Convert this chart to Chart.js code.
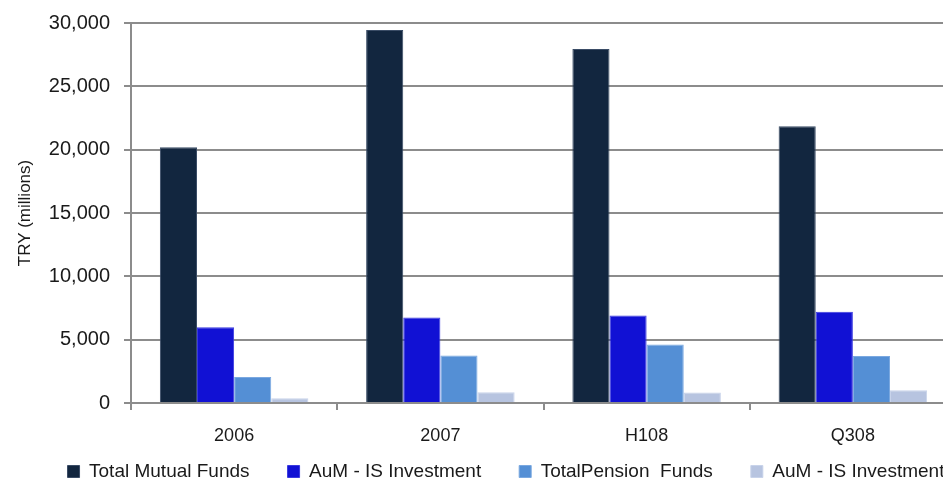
<!DOCTYPE html>
<html>
<head>
<meta charset="utf-8">
<script src="https://cdn.jsdelivr.net/npm/chart.js@4/dist/chart.umd.min.js"></script>
<style>
  html, body { margin: 0; padding: 0; background: #fff; overflow: hidden; }
  #wrap { position: relative; width: 1012px; height: 481px; }
</style>
</head>
<body>
<div id="wrap"><canvas id="c"></canvas></div>
<script>
const categories = ["2006", "2007", "H108", "Q308"];
const seriesNames = ["Total Mutual Funds", "AuM - IS Investment", "TotalPension  Funds", "AuM - IS Investment"];
const totalMutualFunds = [20200, 29450, 27950, 21850];
const aumIsInvestment = [5980, 6750, 6900, 7200];
const totalPensionFunds = [2060, 3750, 4620, 3720];
const aumIsInvestment2 = [370, 850, 820, 1000];
const yTicks = [0, 5000, 10000, 15000, 20000, 25000, 30000];

const colors = ["#12263F", "#1111D4", "#548FD5", "#B7C4E0"];
const borders = ["#3A4C66", "#3A3AE0", "#7AA8E0", "#C8D3EA"];
const values = [totalMutualFunds, aumIsInvestment, totalPensionFunds, aumIsInvestment2];

const FONT = "'Liberation Sans', Arial, sans-serif";
const GRID = "#8C8C8C";

const legendShift = {
  id: "legendShift",
  afterLayout(chart) {
    const lg = chart.legend;
    if (lg) {
      lg.left += 28; lg.right += 28;
      lg.top -= 23; lg.bottom = chart.height;
    }
  }
};

new Chart(document.getElementById("c"), {
  type: "bar",
  plugins: [legendShift],
  data: {
    labels: categories,
    datasets: values.map((v, i) => ({
      label: seriesNames[i],
      data: v,
      backgroundColor: colors[i],
      borderColor: borders[i],
      borderWidth: 1,
      barPercentage: 1.0,
      categoryPercentage: 0.72
    }))
  },
  options: {
    responsive: true,
    maintainAspectRatio: false,
    animation: false,
    layout: { padding: { top: 0, right: 56, left: 0, bottom: 0 } },
    plugins: {
      tooltip: { enabled: false },
      legend: {
        position: "bottom",
        align: "center",
        maxHeight: 34,
        labels: {
          boxWidth: 12,
          boxHeight: 12,
          padding: 38,
          color: "#1A1A1A",
          font: { family: FONT, size: 19 }
        }
      }
    },
    scales: {
      x: {
        offset: true,
        grid: {
          offset: true,
          drawOnChartArea: false,
          drawTicks: true,
          tickLength: 7,
          color: GRID,
          lineWidth: 2
        },
        border: { display: true, color: GRID, width: 2 },
        ticks: {
          color: "#1A1A1A",
          padding: 15.5,
          font: { family: FONT, size: 18 }
        },
        afterFit: (axis) => { axis.height = 44; }
      },
      y: {
        min: 0,
        max: 30000,
        afterBuildTicks: (axis) => { axis.ticks = yTicks.map(v => ({ value: v })); },
        grid: {
          color: GRID,
          lineWidth: 2,
          tickLength: 7,
          drawTicks: true
        },
        border: { display: true, color: GRID, width: 2 },
        ticks: {
          color: "#1A1A1A",
          padding: 14,
          font: { family: FONT, size: 20, lineHeight: 0.9 },
          callback: (v) => v.toLocaleString("en-US")
        },
        title: {
          display: true,
          text: "TRY (millions)",
          color: "#1A1A1A",
          font: { family: FONT, size: 17 },
          padding: { top: 15, bottom: 0 }
        },
        afterFit: (axis) => { axis.width = 131; }
      }
    }
  }
});
</script>
</body>
</html>
